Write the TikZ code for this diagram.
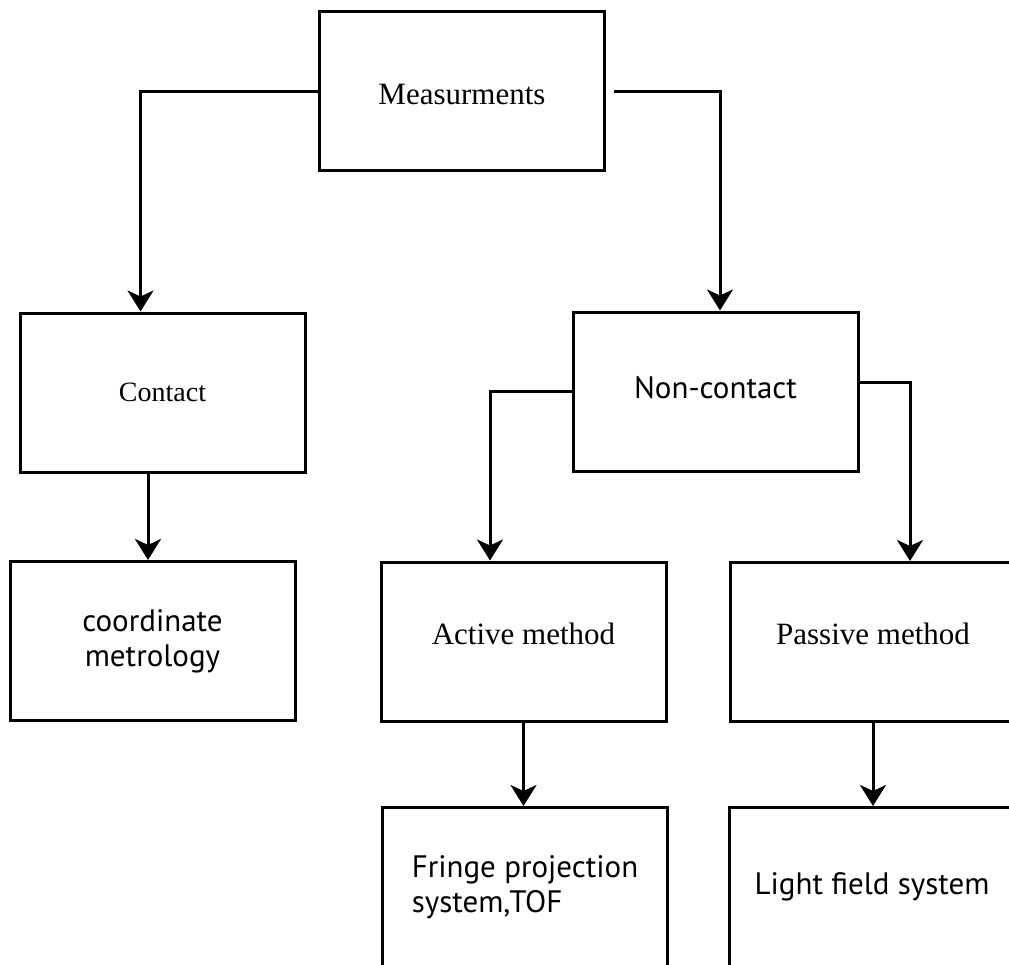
\documentclass[tikz,border=0pt]{standalone}
\usepackage{fontspec}
\setmainfont{Liberation Serif}
\newfontfamily\sansfam{PT Sans}
\usetikzlibrary{arrows.meta}

\begin{document}
\begin{tikzpicture}[x=0.5pt, y=-0.5pt,
  box/.style = {draw, line width=1.5pt, minimum width=142.5pt, minimum height=79.5pt, inner sep=0pt},
  serif/.style = {font=\fontsize{15.5}{18}\selectfont},
  sans/.style = {align=center, font=\sansfam\fontsize{15.5}{17.5}\selectfont},
  arr/.style = {line width=1.5pt, -{Stealth[length=10.5pt, width=13pt, inset=3pt]}}]
\useasboundingbox (0,0) rectangle (1009,965);
\clip (0,0) rectangle (1009,965);

\node[box, serif]                 (meas)    at (462,91)    {\raisebox{-1.5pt}[\height][\depth]{Measurments}};
\node[box, serif, font=\fontsize{14}{16}\selectfont] (contact) at (162.5,392.5) {Contact};
\node[box, sans]                  (noncon)  at (715.5,391.5) {\raisebox{2pt}[\height][\depth]{Non-contact}};
\node[box, sans]                  (coord)   at (152.5,641) {coordinate\\metrology};
\node[box, serif]                 (active)  at (523.5,641.5) {\raisebox{4pt}[\height][\depth]{Active method}};
\node[box, serif]                 (passive) at (873,642)   {\raisebox{4pt}[\height][\depth]{Passive method}};
\node[box, sans, align=left]      (fringe)  at (525,887)   {Fringe projection\\system,TOF};
\node[box, sans]                  (light)   at (872,887)   {Light field system};

\draw[arr] (meas.west) -| ([xshift=-11pt]contact.north);
\draw[arr, shorten <=4pt] (meas.east) -| ([xshift=2.25pt]noncon.north);
\draw[arr] ([xshift=-7.25pt]contact.south) -- ([xshift=-7.25pt]contact.south |- coord.north);
\draw[arr] (noncon.west) -| ([xshift=-16.75pt]active.north);
\draw[arr] ([yshift=4.75pt]noncon.east) -| ([xshift=18.5pt]passive.north);
\draw[arr] (active.south) -- (active.south |- fringe.north);
\draw[arr] (passive.south) -- (passive.south |- light.north);
\end{tikzpicture}
\end{document}
